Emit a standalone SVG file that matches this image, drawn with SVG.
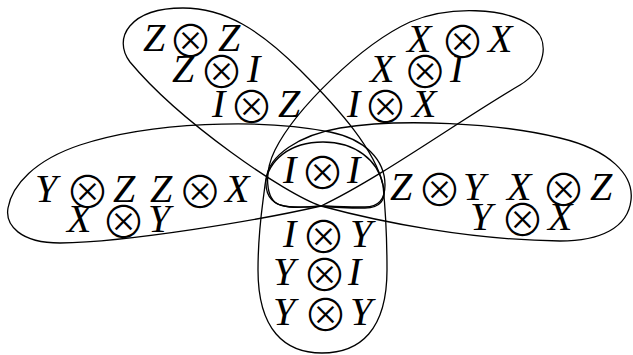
<svg xmlns="http://www.w3.org/2000/svg" width="633" height="355" viewBox="0 0 633 355">
<style>
.p{fill:none;stroke:#000;stroke-width:1.3;stroke-linejoin:round}
text{font-family:"Liberation Serif","Times New Roman",serif;font-style:italic;font-size:40px;fill:#000}
.o{font-family:"Noto Sans CJK SC","DejaVu Sans",sans-serif;font-style:normal;font-weight:300;font-size:45px}
</style>
<rect width="633" height="355" fill="#fff"/>
<g id="connectors">
<g id="petal-left"><path class="p" d="M321,206 C260,220 130,242 60,243 C20,243 5,225 8,208 C12,185 35,160 80,145 C150,122 260,118 330,132 C365,139 385,160 385,185 C385,200 378,207 365,207 C345,207 330,206 321,206 Z"/></g>
<g id="petal-right"><path class="p" d="M321,206 C380,222 470,240 560,241 C600,241 628,228 631,200 C634,175 610,150 560,138 C500,123 400,118 340,128 C300,135 268,155 266,180 C265,198 275,206 290,207 C305,208 315,206 321,206 Z"/></g>
<g id="petal-upper-left"><path class="p" d="M321,206 C285,194 180,122 130,62 C112,38 130,8 183,8 C225,8 260,30 300,70 C340,110 375,150 383,185 C387,200 380,208 365,208 C345,208 330,207 321,206 Z"/></g>
<g id="petal-upper-right"><path class="p" d="M321,206 C380,178 460,120 520,85 C545,70 552,40 530,25 C505,8 450,5 410,22 C360,45 295,110 275,150 C264,172 265,200 280,205 C295,209 310,207 321,206 Z"/></g>
<g id="petal-bottom"><path class="p" d="M323,142 C290,142 268,160 265,185 C262,210 258,230 258,270 C258,330 285,353 322,353 C360,353 387,330 387,270 C387,230 385,205 383,185 C378,160 355,142 323,142 Z"/></g>
</g>
<g id="node-upper-left">
<text><tspan x="143" y="51">Z</tspan><tspan class="o" x="168" y="57.5">⊗</tspan><tspan x="218" y="51">Z</tspan></text>
<text><tspan x="172" y="82">Z</tspan><tspan class="o" x="199" y="88.5">⊗</tspan><tspan x="247" y="82">I</tspan></text>
<text><tspan x="212" y="117">I</tspan><tspan class="o" x="229" y="123.5">⊗</tspan><tspan x="278" y="117">Z</tspan></text>
</g>
<g id="node-upper-right">
<text><tspan x="407" y="52">X</tspan><tspan class="o" x="440" y="58.5">⊗</tspan><tspan x="488" y="52">X</tspan></text>
<text><tspan x="370" y="82">X</tspan><tspan class="o" x="402.5" y="88.5">⊗</tspan><tspan x="450" y="82">I</tspan></text>
<text><tspan x="347" y="117">I</tspan><tspan class="o" x="363" y="123.5">⊗</tspan><tspan x="412" y="117">X</tspan></text>
</g>
<g id="node-left">
<text><tspan x="35" y="202">Y</tspan><tspan class="o" x="65" y="208.5">⊗</tspan><tspan x="113" y="202">Z</tspan></text>
<text><tspan x="150" y="202">Z</tspan><tspan class="o" x="177.5" y="208.5">⊗</tspan><tspan x="225" y="202">X</tspan></text>
<text><tspan x="67" y="232">X</tspan><tspan class="o" x="101" y="238.5">⊗</tspan><tspan x="148" y="232">Y</tspan></text>
</g>
<g id="node-right">
<text><tspan x="390" y="200">Z</tspan><tspan class="o" x="417" y="206.5">⊗</tspan><tspan x="463" y="200">Y</tspan></text>
<text><tspan x="507" y="200">X</tspan><tspan class="o" x="541" y="206.5">⊗</tspan><tspan x="590" y="200">Z</tspan></text>
<text><tspan x="470" y="230">Y</tspan><tspan class="o" x="500" y="236.5">⊗</tspan><tspan x="548" y="230">X</tspan></text>
</g>
<g id="node-center">
<text><tspan x="283" y="183">I</tspan><tspan class="o" x="300" y="189.5">⊗</tspan><tspan x="347" y="183">I</tspan></text>
</g>
<g id="node-bottom">
<text><tspan x="283" y="247">I</tspan><tspan class="o" x="301" y="253.5">⊗</tspan><tspan x="350" y="247">Y</tspan></text>
<text><tspan x="273" y="285">Y</tspan><tspan class="o" x="302" y="291.5">⊗</tspan><tspan x="348" y="285">I</tspan></text>
<text><tspan x="273" y="325">Y</tspan><tspan class="o" x="303" y="331.5">⊗</tspan><tspan x="350" y="325">Y</tspan></text>
</g>
</svg>
